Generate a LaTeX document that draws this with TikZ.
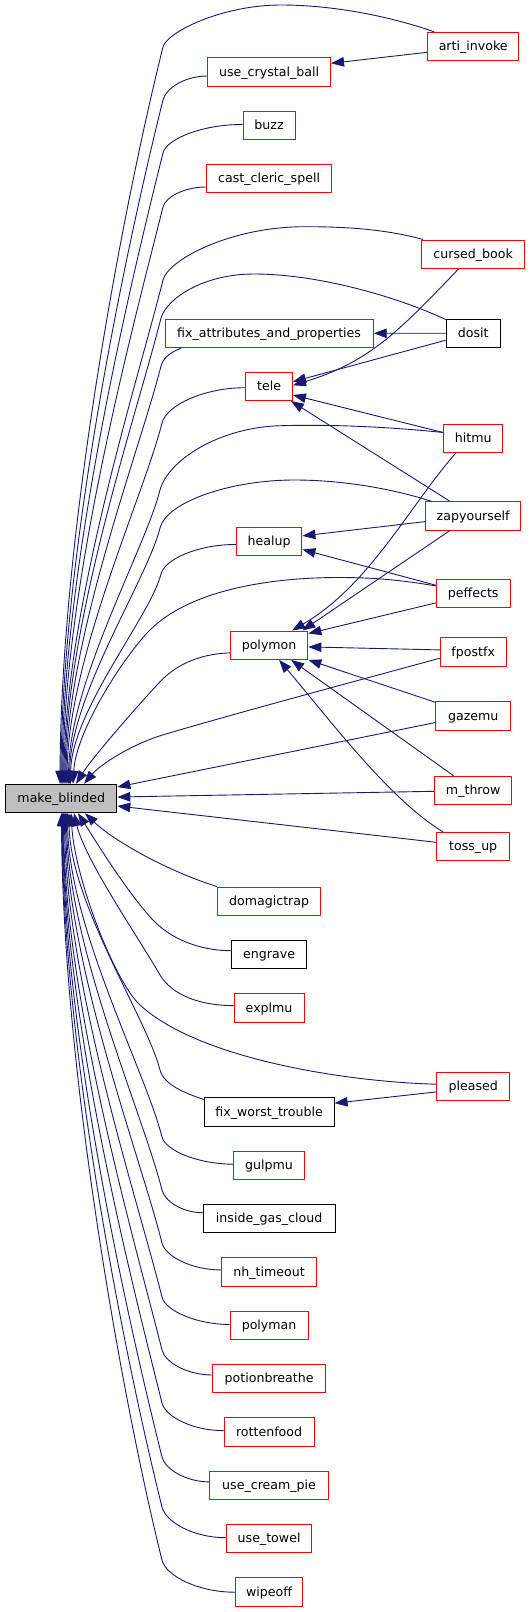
\documentclass[tikz,border=0pt]{standalone}
\usepackage{fontspec}
\setmainfont{DejaVu Sans}
\usetikzlibrary{calc,arrows.meta}
\definecolor{edgecol}{HTML}{191970}
\definecolor{mbfill}{HTML}{BFBFBF}
\tikzset{
  basebox/.style={line width=1pt, minimum height=28.4pt, inner sep=0pt, fill=white,
    text height=9.6pt, text depth=1.2pt, font=\fontsize{12.6pt}{14pt}\selectfont},
  rbox/.style={basebox, draw=red},
  kbox/.style={basebox, draw=black},
  gbox/.style={basebox, draw=black, fill=mbfill},
  e/.style={draw=edgecol, line width=0.9pt, -{Triangle[length=13pt,width=9.5pt]}}
}
\begin{document}
\begin{tikzpicture}[x=1pt,y=-1pt]
\useasboundingbox (0,0) rectangle (531,1612);
% nodes
\node[rbox, minimum width=91.1pt] (arti) at (473.2,46.5) {arti\_invoke};
\node[rbox, minimum width=122.9pt] (ucb) at (269.1,72) {use\_crystal\_ball};
\node[rbox, minimum width=52.2pt] (buzz) at (269.1,125.2) {buzz};
\node[rbox, minimum width=125.7pt] (ccs) at (269.1,178.5) {cast\_cleric\_spell};
\node[rbox, minimum width=102.6pt] (cursed) at (473.2,254.2) {cursed\_book};
\node[kbox, minimum width=53.9pt] (dosit) at (473.2,333.2) {dosit};
\node[rbox, minimum width=208.2pt] (fixattr) at (269.1,333.3) {fix\_attributes\_and\_properties};
\node[rbox, minimum width=46.7pt] (tele) at (269.1,386.3) {tele};
\node[rbox, minimum width=58.9pt] (hitmu) at (473.2,438.5) {hitmu};
\node[rbox, minimum width=95.1pt] (zap) at (473.2,515.9) {zapyourself};
\node[rbox, minimum width=65.6pt] (healup) at (269.1,541.2) {healup};
\node[rbox, minimum width=73.8pt] (peff) at (473.2,593.2) {peffects};
\node[rbox, minimum width=77.5pt] (polymon) at (269.1,645.2) {polymon};
\node[rbox, minimum width=65.8pt] (fpostfx) at (473.2,651.9) {fpostfx};
\node[rbox, minimum width=75.2pt] (gazemu) at (473.2,715.9) {gazemu};
\node[rbox, minimum width=77.5pt] (mthrow) at (473.2,790.5) {m\_throw};
\node[gbox, minimum width=111pt] (mb) at (61.3,798.5) {make\_blinded};
\node[rbox, minimum width=72.8pt] (tossup) at (473.2,846.5) {toss\_up};
\node[rbox, minimum width=103.3pt] (domagic) at (269.1,901.2) {domagictrap};
\node[kbox, minimum width=75.2pt] (engrave) at (269.1,954.5) {engrave};
\node[rbox, minimum width=69.8pt] (explmu) at (269.1,1007.9) {explmu};
\node[rbox, minimum width=72.8pt] (pleased) at (473.2,1086.2) {pleased};
\node[kbox, minimum width=130pt] (fwt) at (269.1,1111.9) {fix\_worst\_trouble};
\node[rbox, minimum width=71.1pt] (gulpmu) at (269.1,1165.2) {gulpmu};
\node[kbox, minimum width=131.8pt] (igc) at (269.1,1218.5) {inside\_gas\_cloud};
\node[rbox, minimum width=94.8pt] (nh) at (269.1,1271.9) {nh\_timeout};
\node[rbox, minimum width=77.9pt] (polyman) at (269.1,1325.2) {polyman};
\node[rbox, minimum width=112.4pt] (potion) at (269.1,1378.5) {potionbreathe};
\node[rbox, minimum width=90.1pt] (rotten) at (269.1,1431.9) {rottenfood};
\node[rbox, minimum width=118.5pt] (cream) at (269.1,1485.2) {use\_cream\_pie};
\node[rbox, minimum width=85.7pt] (towel) at (269.1,1538.5) {use\_towel};
\node[rbox, minimum width=67pt] (wipeoff) at (269.1,1591.9) {wipeoff};

% edges into make_blinded from above
\draw[e] ($(arti.north west)+(7,0)$) .. controls (392,17) and (335,5) .. (281,5) .. controls (222,5) and (167,32) .. (163,47) .. controls (126,194.5) and (61,526) .. ($(mb.north)+(-1.3,0)$);
\draw[e] ($(ucb.west)+(0,4)$) .. controls (185.3,76) and (166,88) .. (163,100) .. controls (128.8,236.9) and (62,544.8) .. ($(mb.north)+(-0.3,0)$);
\draw[e] ($(buzz.west)+(0,-0.7)$) .. controls (203,124.3) and (166.6,138.7) .. (163,153) .. controls (131.4,279.3) and (63,563.3) .. ($(mb.north)+(0.7,0)$);
\draw[e] ($(ccs.west)+(0,8.5)$) .. controls (184.6,187) and (165.5,197) .. (163,207) .. controls (134.1,322.5) and (64,582.2) .. ($(mb.north)+(1.7,0)$);
\draw[e] ($(cursed.north west)+(1.7,0)$) .. controls (385,229) and (345,226.7) .. (305,226.7) .. controls (230,226.7) and (168,260) .. (163,280) .. controls (137.8,380.9) and (65,607.8) .. ($(mb.north)+(2.7,0)$);
\draw[e] ($(dosit.north west)+(0,1)$) .. controls (400,298) and (320,274) .. (254,274) .. controls (204,274) and (167,298) .. (161,318) .. controls (137.7,411.3) and (66,621.1) .. ($(mb.north)+(3.7,0)$);
\draw[e] ($(fixattr.south west)+(16.8,0)$) .. controls (172,352) and (164,356) .. (161,366) .. controls (140,449.6) and (67,638) .. ($(mb.north)+(4.7,0)$);
\draw[e] ($(tele.west)+(0,1.4)$) .. controls (203.8,387.7) and (166.4,405.4) .. (162,423) .. controls (144,495) and (68,658) .. ($(mb.north)+(5.7,0)$);
\draw[e] ($(hitmu.west)+(0,-6)$) .. controls (400,428) and (340,424) .. (281,425.7) .. controls (220,427) and (168,460) .. (160,490) .. controls (145.3,548.9) and (69.5,681.3) .. ($(mb.north)+(7.2,0)$);
\draw[e] ($(zap.north west)+(6.1,0)$) .. controls (390,488) and (340,480) .. (294.6,480) .. controls (230,480) and (166.5,502) .. (160,528) .. controls (147.2,579.3) and (70.5,694.6) .. ($(mb.north)+(8.2,0)$);
\draw[e] ($(healup.west)+(0,3.3)$) .. controls (198.7,544.3) and (164.7,559) .. (161,574) .. controls (150.5,616) and (71.5,710.7) .. ($(mb.north)+(9.2,0)$);
\draw[e] ($(peff.west)+(0,-7.3)$) .. controls (400,580) and (375,577.5) .. (338.6,577.5) .. controls (270,577.5) and (190,590) .. (150,630) .. controls (125,655) and (76,730) .. ($(mb.north)+(11.7,0)$);
\draw[e] ($(polymon.west)+(0,7.7)$) .. controls (195,654) and (172,668) .. (158,684) .. controls (140,703) and (92,758) .. ($(mb.north)+(14.7,0)$);
\draw[e] ($(fpostfx.west)+(0,6.3)$) .. controls (360,680) and (240,712) .. (162.5,735) .. controls (130,745) and (100,765) .. ($(mb.north)+(22.7,0)$);

% edges into make_blinded from the right
\draw[e] ($(gazemu.west)+(0,6.7)$) -- ($(mb.east)+(0,-11.5)$);
\draw[e] ($(mthrow.west)+(0,0.8)$) -- ($(mb.east)+(0,-1.5)$);
\draw[e] ($(tossup.west)+(0,-4.2)$) -- ($(mb.east)+(0,7.5)$);

% edges into make_blinded from below
\draw[e] (domagic.north west) .. controls (170,872) and (115,842) .. ($(mb.south)+(23.7,0)$);
\draw[e] ($(engrave.west)+(0,-3.8)$) .. controls (205,950.7) and (175,942) .. (155,922) .. controls (130,897) and (95,840) .. ($(mb.south)+(16.7,0)$);
\draw[e] ($(explmu.west)+(0,-2.3)$) .. controls (200,1005.7) and (172,995) .. (160,975) .. controls (140,940) and (85,860) .. ($(mb.south)+(12.7,0)$);
\draw[e] ($(pleased.west)+(0,-2)$) .. controls (350,1082) and (200,1060) .. (140,1005) .. controls (115,982) and (75,880) .. ($(mb.south)+(9.7,0)$);
\draw[e] ($(fwt.north west)+(0,2.3)$) .. controls (185,1093) and (164,1085) .. (160,1070) .. controls (147,1018.5) and (70,902.8) .. ($(mb.south)+(7.7,0)$);
\draw[e] ($(gulpmu.west)+(0,-1)$) .. controls (197.9,1164) and (165.4,1150.5) .. (162,1137) .. controls (145.8,1072.1) and (68.5,926.2) .. ($(mb.south)+(6.2,0)$);
\draw[e] ($(igc.west)+(0,-5.8)$) .. controls (182.6,1212.7) and (164.9,1201.4) .. (162,1190) .. controls (143.1,1114.5) and (67.5,944.8) .. ($(mb.south)+(5.2,0)$);
\draw[e] ($(nh.west)+(0,-2)$) .. controls (191.9,1270) and (165.4,1256.5) .. (162,1243) .. controls (140.5,1156.9) and (66.5,963.3) .. ($(mb.south)+(4.2,0)$);
\draw[e] ($(polyman.west)+(0,-0.7)$) .. controls (196.1,1324.3) and (165.4,1310.7) .. (162,1297) .. controls (137.8,1200.1) and (65.5,982.2) .. ($(mb.south)+(3.2,0)$);
\draw[e] ($(potion.west)+(0,-3.5)$) .. controls (187.5,1375) and (165.1,1362.5) .. (162,1350) .. controls (135.1,1242.5) and (64.5,1000.8) .. ($(mb.south)+(2.2,0)$);
\draw[e] ($(rotten.west)+(0,-1.3)$) .. controls (193.1,1430.7) and (165.5,1416.9) .. (162,1403) .. controls (132.5,1284.9) and (64,1019.3) .. ($(mb.south)+(1.7,0)$);
\draw[e] ($(cream.west)+(0,-3.3)$) .. controls (186,1481.7) and (165.1,1469.4) .. (162,1457) .. controls (129.8,1328.1) and (63.5,1038.2) .. ($(mb.south)+(1.2,0)$);
\draw[e] ($(towel.west)+(0,-0.8)$) .. controls (194.1,1537.7) and (165.9,1522.4) .. (162,1507) .. controls (127.3,1368.1) and (63,1055.7) .. ($(mb.south)+(0.7,0)$);
\draw[e] ($(wipeoff.west)+(0,0.3)$) .. controls (198.8,1592.3) and (166,1576.2) .. (162,1560) .. controls (124.6,1410.5) and (62.5,1074.3) .. ($(mb.south)+(0.2,0)$);

% other edges
\draw[e] ($(arti.west)+(0,5.8)$) -- ($(ucb.east)+(0,-8.7)$);
\draw[e] (dosit.west) -- (fixattr.east);
\draw[e] ($(dosit.west)+(0,7)$) -- ($(tele.east)+(0,-4.6)$);
\draw[e] ($(cursed.south)+(-14.6,0)$) .. controls (400,330) and (370,362) .. ($(tele.east)+(0,-1)$);
\draw[e] ($(hitmu.west)+(0,-6)$) -- ($(tele.east)+(0,8.7)$);
\draw[e] ($(zap.north west)+(24.7,0)$) -- ($(tele.south east)+(-2,0)$);
\draw[e] ($(zap.west)+(0,5.7)$) -- ($(healup.east)+(0,-5.3)$);
\draw[e] ($(peff.west)+(0,-8)$) -- ($(healup.east)+(0,8.3)$);
\draw[e] ($(hitmu.south)+(-17.5,0)$) .. controls (410,505) and (370,585) .. ($(polymon.north)+(23,0)$);
\draw[e] ($(zap.south west)+(24.7,0)$) -- ($(polymon.north east)+(-6,0)$);
\draw[e] ($(peff.west)+(0,9.7)$) -- ($(polymon.north east)+(0,3)$);
\draw[e] ($(fpostfx.west)+(0,-2)$) -- ($(polymon.east)+(0,1.7)$);
\draw[e] ($(gazemu.north west)+(0,1)$) -- (polymon.south east);
\draw[e] ($(mthrow.north)+(-19.5,0)$) -- ($(polymon.south)+(22,0)$);
\draw[e] ($(tossup.north west)+(6.7,0)$) .. controls (390,800) and (330,720) .. ($(polymon.south)+(10,0)$);
\draw[e] ($(pleased.west)+(0,5.7)$) -- ($(fwt.east)+(0,-8.7)$);
\end{tikzpicture}
\end{document}
